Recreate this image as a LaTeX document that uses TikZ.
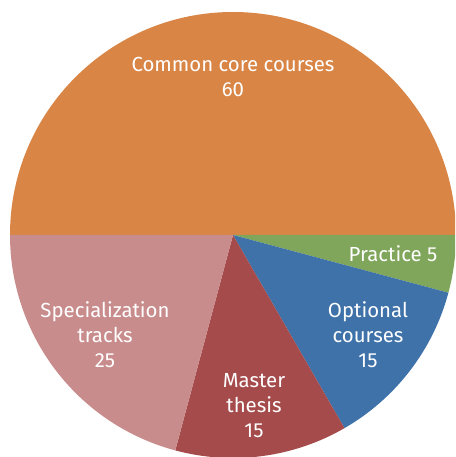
\documentclass[tikz,border=0pt]{standalone}
\usepackage{fontspec}
\setmainfont{Fira Sans}
\usetikzlibrary{calc}
\definecolor{corecol}{HTML}{D88545}
\definecolor{practicecol}{HTML}{7FA65A}
\definecolor{optionalcol}{HTML}{3F72A9}
\definecolor{thesiscol}{HTML}{A54B4B}
\definecolor{trackcol}{HTML}{C98C8C}
\tikzset{slicelabel/.style={text=white, align=center, inner sep=0pt, font=\fontsize{17.4}{21.3}\selectfont}}

\begin{document}
\begin{tikzpicture}
	\useasboundingbox (0,0) rectangle (13.65,13.71);
	\clip (0,0) rectangle (13.65,13.71);
	% Settings
	\pgfmathsetmacro{\radius}{6.69}
	% /Settings
	\coordinate (centre) at (6.99,6.66);
	\foreach \a/\b/\col in {180/0/corecol, 0/-15/practicecol, -15/-60/optionalcol, -60/-105/thesiscol, -105/-180/trackcol}{
		\fill[\col] (centre) -- ++(\a:\radius) arc[start angle=\a, end angle=\b, radius=\radius] -- cycle;
	}
	\node[slicelabel] (core) at (6.99,11.40) {Common core courses\\60};
	\node[slicelabel] (practice) at (11.79,6.09) {Practice 5};
	\node[slicelabel] (optional) at (11.04,3.66) {Optional\\courses\\15};
	\node[slicelabel] (thesis) at (7.62,1.53) {Master\\thesis\\15};
	\node[slicelabel] (tracks) at (3.15,3.66) {Specialization\\tracks\\25};
\end{tikzpicture}
\end{document}
